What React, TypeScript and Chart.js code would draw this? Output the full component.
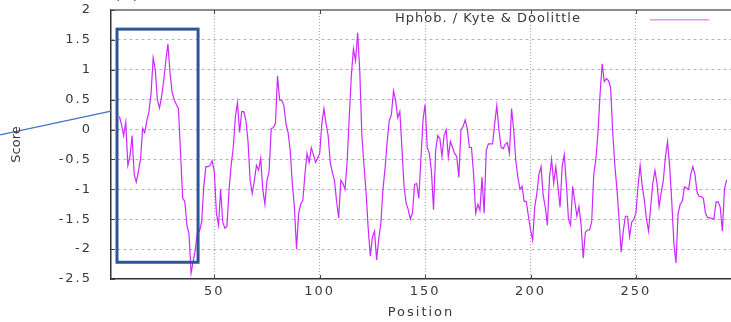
import React, { useEffect, useRef } from "react";
import { Chart, registerables } from "chart.js";

Chart.register(...registerables);

// Kyte & Doolittle hydrophobicity (window 9) – first scored residue is position 5
const START_POSITION = 5;

// positions 5–59
const scoresA = [
  0.22, 0.08, -0.1, 0.12, -0.6, -0.45, -0.1, -0.75, -0.88, -0.7,
  -0.5, 0.02, -0.05, 0.15, 0.3, 0.6, 1.2, 1.0, 0.5, 0.36,
  0.55, 0.82, 1.15, 1.43, 0.95, 0.62, 0.5, 0.42, 0.35, -0.4,
  -1.15, -1.2, -1.6, -1.75, -2.4, -2.2, -2.0, -1.72, -1.7, -1.55,
  -0.95, -0.62, -0.62, -0.6, -0.52, -0.7, -1.4, -1.6, -1.0, -1.55,
  -1.65, -1.62, -1.0, -0.6, -0.3,
];
// positions 60–118
const scoresB = [
  0.21, 0.45, -0.05, 0.3, 0.3, 0.15, -0.2, -0.85, -1.07, -0.85,
  -0.6, -0.68, -0.48, -1.0, -1.25, -0.85, -0.7, 0.02, 0.03, 0.1,
  0.9, 0.49, 0.49, 0.4, 0.1, -0.05, -0.35, -0.9, -1.3, -2.0,
  -1.4, -1.25, -1.18, -0.75, -0.4, -0.55, -0.3, -0.42, -0.55, -0.48,
  -0.4, 0.1, 0.35, 0.1, -0.1, -0.55, -0.72, -0.85, -1.2, -1.48,
  -0.85, -0.9, -1.0, -0.55, 0.2, 0.9, 1.35, 1.15, 1.62,
];
// positions 119–177
const scoresC = [
  0.99, -0.1, -0.6, -1.05, -1.65, -2.12, -1.8, -1.7, -2.18, -1.83,
  -1.57, -1.0, -0.65, -0.2, 0.15, 0.25, 0.65, 0.49, 0.2, 0.3,
  -0.3, -0.95, -1.23, -1.34, -1.5, -1.4, -0.92, -0.9, -1.15, -0.5,
  0.16, 0.42, -0.3, -0.4, -0.7, -1.34, -0.35, -0.1, -0.15, -0.45,
  -0.1, 0.0, -0.46, -0.2, -0.3, -0.4, -0.45, -0.8, -0.01, 0.05,
  0.16, 0.02, -0.3, -0.3, -0.75, -1.4, -1.25, -1.35, -0.8,
];
// positions 178–236
const scoresD = [
  -1.4, -0.35, -0.24, -0.24, -0.24, 0.1, 0.4, 0.0, -0.29, -0.32,
  -0.25, -0.22, -0.4, 0.35, 0.0, -0.51, -0.8, -1.0, -0.95, -1.2,
  -1.2, -1.45, -1.68, -1.85, -1.3, -1.07, -0.75, -0.62, -1.1, -1.3,
  -1.6, -0.8, -0.5, -0.9, -0.62, -0.95, -1.3, -0.62, -0.42, -0.9,
  -1.5, -1.6, -0.95, -1.2, -1.45, -1.29, -1.6, -2.15, -1.72, -1.68,
  -1.68, -1.55, -0.75, -0.5, -0.05, 0.6, 1.1, 0.8, 0.85,
];
// positions 237–293
const scoresE = [
  0.82, 0.7, -0.05, -0.6, -1.0, -1.5, -2.05, -1.7, -1.45, -1.45,
  -1.79, -1.55, -1.5, -1.4, -0.95, -0.6, -0.95, -1.18, -1.5, -1.7,
  -1.29, -0.9, -0.68, -0.9, -1.29, -1.05, -0.85, -0.45, -0.2, -0.62,
  -1.2, -1.9, -2.23, -1.4, -1.25, -1.2, -0.96, -0.98, -1.0, -0.75,
  -0.62, -0.75, -1.05, -1.12, -1.12, -1.15, -1.4, -1.47, -1.48, -1.48,
  -1.5, -1.21, -1.21, -1.3, -1.7, -1.0, -0.84,
];

const scores = [...scoresA, ...scoresB, ...scoresC, ...scoresD, ...scoresE];

const xTickValues = [50, 100, 150, 200, 250];
const yTickValues = [-2.5, -2, -1.5, -1, -0.5, 0, 0.5, 1, 1.5, 2];
const X_MIN = 1;
const X_MAX = 295.1;
const Y_MIN = -2.5;
const Y_MAX = 2;

const seriesLabel = "Hphob. / Kyte & Doolittle";
const panelLabel = "(A)";
const xTitle = "Position";
const yTitle = "Score";

// highlighted region (in data units)
const boxX = [3.85, 42.3];
const boxY = [1.68, -2.22];
// pointer line end values on the y scale
const pointerY = [-0.09, 0.31];

const LINE_COLOR = "rgb(204, 40, 255)";
const TEXT_COLOR = "#383838";
const FONT = "DejaVu Sans";

const decorPlugin = {
  id: "decor",
  beforeDraw(chart: any) {
    chart.ctx.letterSpacing = "2px";
  },
  afterDraw(chart: any) {
    const ctx: CanvasRenderingContext2D = chart.ctx;
    const x = chart.scales.x;
    const y = chart.scales.y;
    const a = chart.chartArea;
    ctx.save();
    // top frame line
    ctx.fillStyle = "#8a8a8a";
    ctx.fillRect(a.left, a.top - 1, a.right - a.left, 2);
    // inward tick marks
    ctx.fillStyle = "#444";
    for (const v of yTickValues) {
      ctx.fillRect(a.left, Math.round(y.getPixelForValue(v)), 4, 1);
    }
    for (const v of xTickValues) {
      const px = Math.round(x.getPixelForValue(v));
      ctx.fillRect(px, a.top, 1, 4);
      ctx.fillRect(px, a.bottom - 4, 1, 4);
    }

    // highlight box
    ctx.strokeStyle = "#2f5597";
    ctx.lineWidth = 3;
    const bx0 = x.getPixelForValue(boxX[0]);
    const bx1 = x.getPixelForValue(boxX[1]);
    const by0 = y.getPixelForValue(boxY[0]);
    const by1 = y.getPixelForValue(boxY[1]);
    ctx.strokeRect(bx0, by0, bx1 - bx0, by1 - by0);

    // pointer line
    ctx.strokeStyle = "#4472c4";
    ctx.lineWidth = 1.3;
    ctx.beginPath();
    ctx.moveTo(0, y.getPixelForValue(pointerY[0]));
    ctx.lineTo(a.left, y.getPixelForValue(pointerY[1]));
    ctx.stroke();

    // legend
    ctx.font = `13px '${FONT}'`;
    ctx.fillStyle = TEXT_COLOR;
    ctx.letterSpacing = "1px";
    ctx.textAlign = "left";
    ctx.textBaseline = "middle";
    ctx.fillText(seriesLabel, 395, 19);
    ctx.fillStyle = "rgba(204, 40, 255, 0.5)";
    ctx.fillRect(650, 19, 59, 1.5);

    // panel label (cropped at top)
    ctx.fillStyle = TEXT_COLOR;
    ctx.letterSpacing = "2px";
    ctx.textBaseline = "alphabetic";
    ctx.fillText(panelLabel, 115, 0);

    // y title
    ctx.letterSpacing = "0px";
    ctx.translate(17, (a.top + a.bottom) / 2);
    ctx.rotate(-Math.PI / 2);
    ctx.textAlign = "center";
    ctx.textBaseline = "middle";
    ctx.fillText(yTitle, 0, 0);
    ctx.restore();
  },
};

export default function App() {
  const ref = useRef<HTMLCanvasElement>(null);
  useEffect(() => {
    const data = scores.map((s, i) => ({ x: START_POSITION + i, y: s }));
    const chart = new Chart(ref.current as HTMLCanvasElement, {
      type: "line",
      data: {
        datasets: [
          {
            label: seriesLabel,
            data,
            borderColor: LINE_COLOR,
            borderWidth: 1.2,
            pointRadius: 0,
            tension: 0,
            fill: false,
          },
        ],
      },
      options: {
        animation: false,
        responsive: false,
        devicePixelRatio: 1,
        layout: { padding: { top: 10, right: 0, bottom: 0, left: 0 } },
        plugins: { legend: { display: false }, tooltip: { enabled: false } },
        scales: {
          x: {
            type: "linear",
            min: X_MIN,
            max: X_MAX,
            afterBuildTicks: (s: any) => {
              s.ticks = xTickValues.map((v) => ({ value: v }));
            },
            afterFit: (s: any) => {
              s.height = 43;
              s.paddingLeft = 0;
              s.paddingRight = 0;
            },
            ticks: {
              padding: 5,
              autoSkip: false,
              maxRotation: 0,
              color: TEXT_COLOR,
              font: { family: FONT, size: 13 },
              callback: (v: any) => String(v),
            },
            grid: {
              display: true,
              drawTicks: false,
              color: "#a8a8a8",
              lineWidth: 1,
            },
            border: { display: true, color: "#333", width: 1.5, dash: [1, 2] },
            title: {
              display: true,
              text: xTitle,
              color: TEXT_COLOR,
              font: { family: FONT, size: 13 },
              padding: { top: 0, bottom: 2 },
            },
          },
          y: {
            min: Y_MIN,
            max: Y_MAX,
            afterBuildTicks: (s: any) => {
              s.ticks = yTickValues.map((v) => ({ value: v }));
            },
            afterFit: (s: any) => {
              s.width = 111;
              s.paddingTop = 0;
              s.paddingBottom = 0;
            },
            ticks: {
              padding: 19,
              color: TEXT_COLOR,
              font: { family: FONT, size: 13 },
              callback: (v: any) => String(v),
            },
            grid: {
              display: true,
              drawTicks: false,
              color: (c: any) =>
                c.tick && (c.tick.value === Y_MIN || c.tick.value === Y_MAX)
                  ? "rgba(0,0,0,0)"
                  : "#b4b4b4",
              lineWidth: 1,
            },
            border: { display: true, color: "#333", width: 1.5, dash: [3, 3] },
          },
        },
      },
      plugins: [decorPlugin],
    } as any);
    return () => chart.destroy();
  }, []);
  return (
    <div
      style={{
        position: "fixed",
        left: 0,
        top: 0,
        width: 731,
        height: 322,
        background: "#fff",
        overflow: "hidden",
      }}
    >
      <canvas
        ref={ref}
        width={731}
        height={322}
        style={{ display: "block", width: 731, height: 322 }}
      />
    </div>
  );
}
